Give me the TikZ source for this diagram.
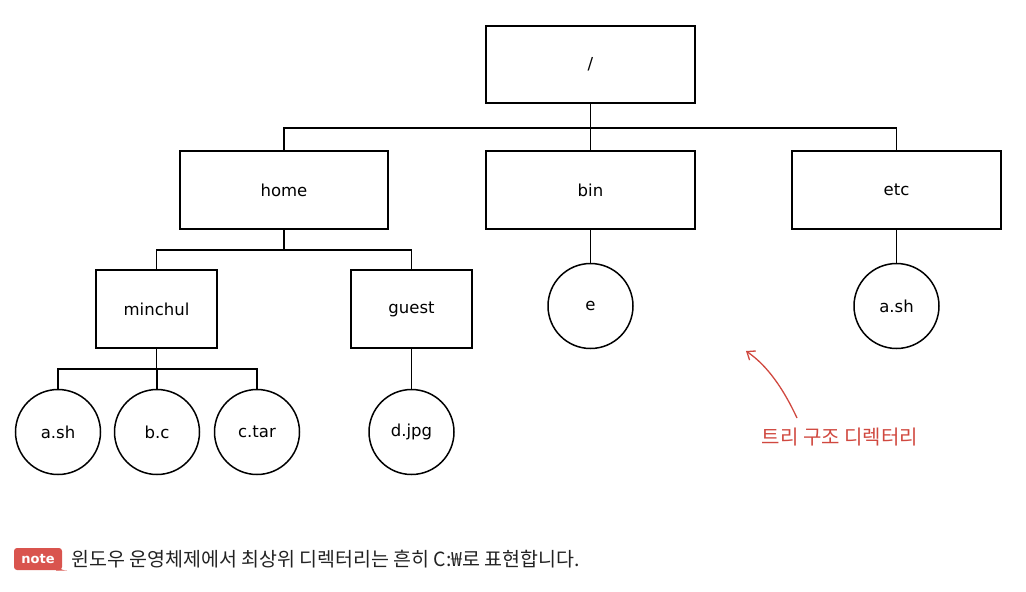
\documentclass[tikz,border=0pt]{standalone}
\usepackage{fontspec}
\setmainfont{DejaVu Sans}
\newfontfamily\krfont{Noto Sans CJK KR}
\usetikzlibrary{arrows.meta}
\definecolor{notered}{HTML}{D9544E}
\definecolor{annred}{HTML}{D0483F}
\definecolor{notetext}{HTML}{222222}
\begin{document}
\begin{tikzpicture}[x=1pt,y=-1pt,
  dirbox/.style={draw=black,line width=1.5pt,rectangle,inner sep=0pt,font=\fontsize{16.5}{18}\selectfont},
  filecirc/.style={draw=black,line width=1.5pt,circle,minimum size=85pt,inner sep=0pt,font=\fontsize{16.5}{18}\selectfont},
  conn/.style={line width=1.5pt,black},
  ann/.style={annred,line width=1.3pt}]
\useasboundingbox (0,0) rectangle (1026,592);
% directories
\node[dirbox,minimum width=209pt,minimum height=77pt] (root) at (590.5,64.5) {/};
\node[dirbox,minimum width=208pt,minimum height=78pt] (home) at (284,190) {home};
\node[dirbox,minimum width=209pt,minimum height=78pt] (bin) at (590.5,190) {bin};
\node[dirbox,minimum width=209pt,minimum height=78pt] (etc) at (896.5,190) {etc};
\node[dirbox,minimum width=121pt,minimum height=78pt] (minchul) at (156.5,309) {minchul};
\node[dirbox,minimum width=121pt,minimum height=78pt] (guest) at (411.5,309) {guest};
% files
\node[filecirc] (ash1) at (58,432) {a.sh};
\node[filecirc] (bc) at (157,432) {b.c};
\node[filecirc] (ctar) at (257,432) {c.tar};
\node[filecirc] (djpg) at (411.5,432) {d.jpg};
\node[filecirc] (e) at (590.5,306) {e};
\node[filecirc] (ash2) at (896.5,306) {a.sh};
% connectors
\coordinate (j1) at (590.5,128);
\draw[conn] (root.south) -- (j1);
\draw[conn] (j1) -| (home.north);
\draw[conn] (j1) -- (bin.north);
\draw[conn] (j1) -| (etc.north);
\coordinate (j2) at (284,250);
\draw[conn] (home.south) -- (j2);
\draw[conn] (j2) -| (minchul.north);
\draw[conn] (j2) -| (guest.north);
\coordinate (j3) at (156.5,369);
\draw[conn] (minchul.south) -- (j3);
\draw[conn] (j3) -| (ash1.north);
\draw[conn] (j3) -| (bc.north);
\draw[conn] (j3) -| (ctar.north);
\draw[conn] (guest.south) -- (djpg.north);
\draw[conn] (bin.south) -- (e.north);
\draw[conn] (etc.south) -- (ash2.north);
% annotation
\node[font=\krfont\fontsize{20}{24}\selectfont,text=annred,inner sep=0pt] (anntext) at (840,437) {트리 구조 디렉터리};
\coordinate (arrtip) at (746,351);
\draw[ann,-{Straight Barb[length=7pt,width=11pt]}] (797,418) .. controls (784,390) and (768,366) .. (arrtip);
% note
\node[fill=notered,rounded corners=3pt,minimum width=48pt,minimum height=22pt,inner sep=0pt,text=white,font=\bfseries\fontsize{13}{14}\selectfont] (badge) at (38,559) {note};
\fill[notered] (56,566) .. controls (60,569) and (63,570.5) .. (67,570.5) -- (56,570.5) -- cycle;
\node[anchor=west,inner sep=0pt,text=notetext,font=\krfont\fontsize{19.5}{22}\selectfont] (notetxt) at (71,559) {윈도우 운영체제에서 최상위 디렉터리는 흔히 C:₩로 표현합니다.};
\end{tikzpicture}
\end{document}
